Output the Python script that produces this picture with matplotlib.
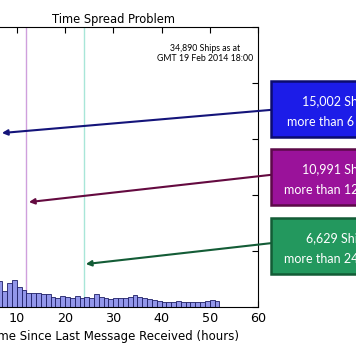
import numpy as np
import matplotlib
matplotlib.use("Agg")
import matplotlib.pyplot as plt
from matplotlib.patches import Rectangle

# hourly histogram of time since last message (bins 6..52 h visible in the crop)
hour_edges = list(range(6, 52))
ship_counts = [700, 430, 640, 720, 540, 455, 375, 375, 375, 350,
               350, 270, 245, 295, 270, 245, 295, 245, 270, 245,
               345, 265, 240, 215, 235, 230, 235, 260, 320, 265,
               235, 210, 185, 165, 140, 135, 145, 160, 140, 140,
               135, 135, 140, 155, 175, 165]

x_ticks = [10, 20, 30, 40, 50, 60]
y_ticks = [0, 1500, 3000, 4500, 6000, 7500]
cutoff_hours = [12, 24]
cutoff_colors = ["#cf9fdc", "#a8e6d8"]

title = "Time Spread Problem"
x_label = "Time Since Last Message Received (hours)"
stamp = "34,890 Ships as at\nGMT 19 Feb 2014 18:00"

# callout boxes: text, face, edge/arrow colour, box y-range, arrow tip
box_texts = ["15,002 Ships\nmore than 6 hours",
             "10,991 Ships\nmore than 12 hours",
             "6,629 Ships\nmore than 24 hours"]
box_faces = ["#1c1ce8", "#9a129a", "#23985e"]
box_edges = ["#0c0c6e", "#5c0a48", "#135c36"]
arrow_colors = ["#14147a", "#640a40", "#135c36"]
box_y = [(4550, 6050), (2730, 4230), (880, 2380)]
arrow_from = [5280, 3540, 1710]
arrow_tip = [(6.9, 4660), (12.5, 2810), (24.3, 1150)]

fig = plt.figure(figsize=(3.56, 3.64), dpi=100)
ax = fig.add_axes([-0.0882, 0.1566, 0.8129, 0.7692])

ax.bar(hour_edges, ship_counts, width=1, align="edge",
       color="#9296ea", edgecolor="#1e1e66", linewidth=0.6, zorder=2)

for h, c in zip(cutoff_hours, cutoff_colors):
    ax.axvline(h, color=c, linewidth=1.0, zorder=1)

ax.set_xlim(0, 60)
ax.set_ylim(0, 7500)
ax.set_xticks(x_ticks)
ax.set_yticks(y_ticks)
ax.tick_params(direction="in", top=True, right=True, length=4, labelsize=9.2)
ax.set_title(title, fontsize=8.3, pad=3)
ax.set_xlabel(x_label, fontsize=8.5, labelpad=4)

ax.text(49, 6800, stamp, fontsize=6.3, family="Lato", ha="center", va="center",
        linespacing=1.15)

for txt, fc, ec, ac, (y0, y1), yf, tip in zip(box_texts, box_faces, box_edges,
                                             arrow_colors, box_y, arrow_from, arrow_tip):
    rect = Rectangle((62.7, y0), 30, y1 - y0, facecolor=fc, edgecolor=ec,
                     linewidth=1.8, clip_on=False, zorder=5)
    ax.add_patch(rect)
    ax.text(76.6, (y0 + y1) / 2 - 80, txt, color="white", fontsize=9, family="Lato",
            ha="center", va="center", linespacing=1.75, clip_on=False, zorder=6)
    ax.annotate("", xy=tip, xytext=(62.7, yf), annotation_clip=False,
                arrowprops=dict(arrowstyle="-|>", color=ac, lw=1.5,
                                mutation_scale=8, shrinkA=0, shrinkB=0), zorder=4)

fig.savefig("out.png", dpi=100)
